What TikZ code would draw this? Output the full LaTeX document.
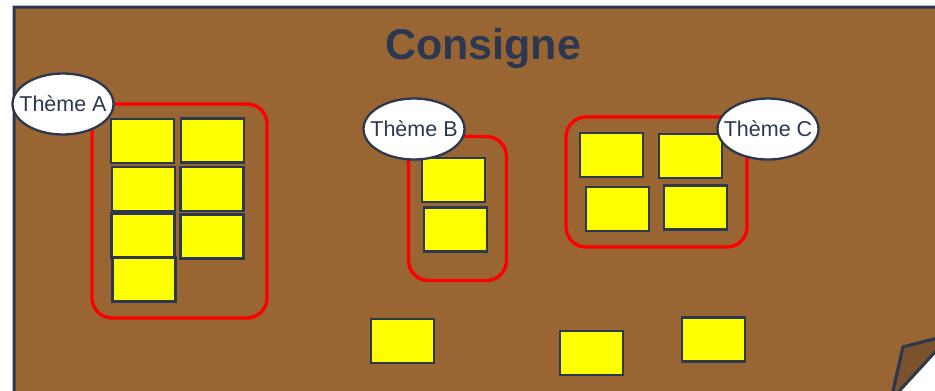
\documentclass[tikz,border=0pt]{standalone}
\usepackage{fontspec}
\setmainfont{Liberation Sans}
\usetikzlibrary{shapes.geometric}
\definecolor{board}{HTML}{996633}
\definecolor{boardfold}{HTML}{7B522B}
\definecolor{ink}{HTML}{2C3750}
\definecolor{note}{HTML}{FFFF00}
\definecolor{groupred}{HTML}{FF0000}
\tikzset{
  postit/.style={draw=ink, line width=2.2pt, fill=note, minimum width=63pt, minimum height=44pt, inner sep=0pt},
  groupbox/.style={draw=groupred, line width=3.4pt, rounded corners=20pt, inner sep=0pt},
  themelabel/.style={ellipse, draw=ink, line width=2.3pt, fill=white, minimum width=101pt, minimum height=61pt, inner xsep=-16pt, inner ysep=-4pt, text=ink, font=\fontsize{21.5}{24}\selectfont},
}
\begin{document}
\begin{tikzpicture}[x=1pt,y=-1pt]
\useasboundingbox (0,0) rectangle (935,391);
\begin{scope}
\clip (0,0) rectangle (935,391);
% board with the curled bottom-right corner
\draw[ink, line width=3pt, fill=board] (14,7) -- (950,7) -- (950,335) -- (903,347) -- (891,400) -- (14,400) -- cycle;
\fill[white] (891,400) -- (936,350) -- (950,350) -- (950,400) -- cycle;
\draw[ink, line width=3pt, fill=boardfold, line join=round] (903,347) -- (950,335) -- (950,338) -- (936,351) -- (891,400) -- cycle;
\end{scope}

\node[text=ink, anchor=base, inner sep=0pt, font=\fontsize{43}{48}\bfseries\selectfont] (title) at (483,59) {Consigne};

% groups
\node[groupbox, minimum width=175pt, minimum height=214pt] (grpA) at (179.5,211) {};
\node[groupbox, minimum width=98pt, minimum height=144pt] (grpB) at (457.5,208.5) {};
\node[groupbox, minimum width=181pt, minimum height=130pt] (grpC) at (656.5,182) {};

% theme A notes
\node[postit] (a1) at (142.5,141) {};
\node[postit] (a2) at (212.5,140.5) {};
\node[postit] (a3) at (143.5,189) {};
\node[postit] (a4) at (212,189) {};
\node[postit] (a5) at (143,235.5) {};
\node[postit] (a6) at (212,236.5) {};
\node[postit] (a7) at (144,279.5) {};

% theme B notes
\node[postit] (b1) at (453.5,180) {};
\node[postit] (b2) at (455.5,229.5) {};

% theme C notes
\node[postit] (c1) at (611.5,155) {};
\node[postit] (c2) at (690.5,156) {};
\node[postit] (c3) at (617.5,209) {};
\node[postit] (c4) at (695.5,207.5) {};

% loose notes
\node[postit] (l1) at (402.5,341) {};
\node[postit] (l2) at (591.5,353) {};
\node[postit] (l3) at (713.5,339.5) {};

% theme labels
\node[themelabel] (thA) at (63,104) {Thème A};
\node[themelabel] (thB) at (414,129) {Thème B};
\node[themelabel] (thC) at (768,129) {Thème C};
\end{tikzpicture}
\end{document}
